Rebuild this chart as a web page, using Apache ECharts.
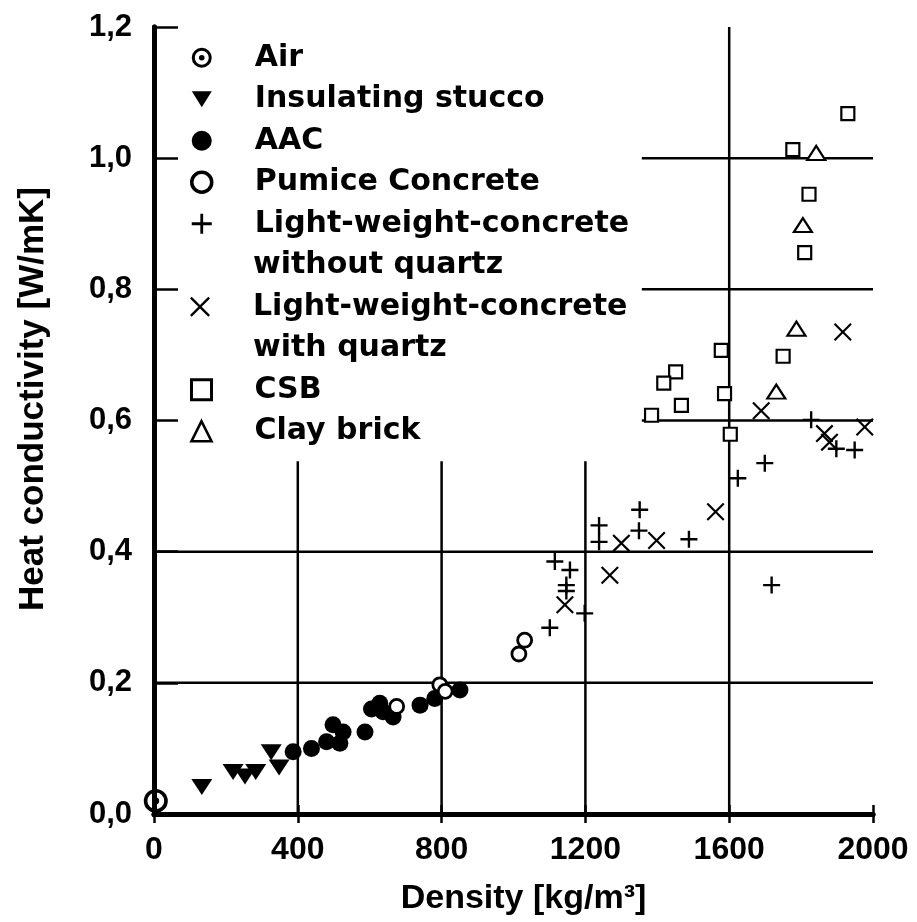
<!DOCTYPE html>
<html>
<head>
<meta charset="utf-8">
<title>Heat conductivity vs density</title>
<script src="https://cdn.jsdelivr.net/npm/echarts@6/dist/echarts.min.js"></script>
<style>
html, body { margin: 0; padding: 0; background: #fff; }
#chart { width: 917px; height: 922px; }
</style>
</head>
<body>
<div id="chart"></div>
<script>
// density [kg/m3], heat conductivity [W/mK]
var airData = [[5, 0.02]];
var stuccoData = [[133, 0.041], [220, 0.064], [253, 0.057], [283, 0.064], [326, 0.094], [348, 0.071]];
var aacData = [[387, 0.095], [438, 0.100], [480, 0.110], [498, 0.136], [517, 0.108], [526, 0.125],
	[587, 0.125], [605, 0.160], [628, 0.169], [637, 0.156], [665, 0.148], [740, 0.166],
	[781, 0.176], [851, 0.189]];
var pumiceData = [[675, 0.164], [795, 0.197], [810, 0.187], [1015, 0.244], [1031, 0.265]];
var lwcWithoutQuartz = [[1101, 0.284], [1115, 0.385], [1157, 0.372], [1147, 0.349], [1147, 0.340],
	[1198, 0.306], [1238, 0.440], [1238, 0.415], [1351, 0.464], [1349, 0.432], [1488, 0.419],
	[1624, 0.512], [1699, 0.535], [1718, 0.349], [1828, 0.601], [1898, 0.557], [1949, 0.555]];
var lwcWithQuartz = [[1143, 0.319], [1268, 0.364], [1300, 0.413], [1398, 0.417], [1562, 0.461],
	[1689, 0.615], [1865, 0.580], [1879, 0.567], [1977, 0.590], [1916, 0.735]];
var csbData = [[1930, 1.068], [1777, 1.013], [1822, 0.945], [1810, 0.856], [1750, 0.698], [1578, 0.707],
	[1451, 0.674], [1418, 0.657], [1467, 0.623], [1384, 0.608], [1587, 0.641], [1603, 0.579]];
var clayBrickData = [[1842, 1.008], [1805, 0.898], [1787, 0.740], [1731, 0.644]];

// grid lines only where the legend leaves room: [x1, y1, x2, y2]
var gridSegments = [
	[400, 0, 400, 0.538], [800, 0, 800, 0.538], [1200, 0, 1200, 0.538], [1600, 0, 1600, 1.2],
	[0, 0.2, 2000, 0.2], [0, 0.4, 2000, 0.4],
	[1357, 0.6, 2000, 0.6], [1357, 0.8, 2000, 0.8], [1357, 1.0, 2000, 1.0]
];

var PLUS = 'path://M-1.4,-10H1.4V-1.4H10V1.4H1.4V10H-1.4V1.4H-10V-1.4H-1.4Z';
var CROSS = 'path://M-10,-8.3L-8.3,-10L0,-1.7L8.3,-10L10,-8.3L1.7,0L10,8.3L8.3,10L0,1.7L-8.3,10L-10,8.3L-1.7,0Z';
var DOWN_TRIANGLE = 'path://M-10,-8L10,-8L0,8Z';
var RING_DOT = 'path://M0,-10A10,10 0 1 1 0,10A10,10 0 1 1 0,-10Z M0,-7A7,7 0 1 0 0,7A7,7 0 1 0 0,-7Z M0,-2.8A2.8,2.8 0 1 1 0,2.8A2.8,2.8 0 1 1 0,-2.8Z';

var axisFont = '"Liberation Sans", Arial, sans-serif';
var legendText = {
	fontFamily: '"DejaVu Sans", sans-serif', fontWeight: 'bold', fontSize: 30,
	color: '#000', lineHeight: 41.5, padding: [0, 0, 0, 38]
};
var openStyle = { color: '#fff', borderColor: '#000', borderWidth: 2.2, opacity: 1 };
var solidStyle = { color: '#000', opacity: 1 };

function firstLine(name) {
	return name.replace(/ with.*$/, '');
}

var dom = document.getElementById('chart');
var myChart = echarts.init(dom);

var legendBase = {
	orient: 'vertical', left: 190, padding: 0, itemGap: 0,
	itemWidth: 20, itemHeight: 20, selectedMode: false, textStyle: legendText, formatter: firstLine
};

var option = {
	animation: false,
	backgroundColor: '#fff',
	grid: { left: 154, right: 44, top: 27, bottom: 108 },
	legend: [
		Object.assign({}, legendBase, {
			top: 37,
			data: ['Air', 'Insulating stucco', 'AAC',
				{ name: 'Pumice Concrete', itemStyle: { borderWidth: 3.5 } },
				'Light-weight-concrete without quartz']
		}),
		Object.assign({}, legendBase, {
			top: 37 + 6 * 41.5,
			data: ['Light-weight-concrete with quartz']
		}),
		Object.assign({}, legendBase, {
			top: 37 + 8 * 41.5,
			data: [{ name: 'CSB', itemStyle: { borderWidth: 3 } }, { name: 'Clay brick', itemStyle: { borderWidth: 2.6 } }]
		})
	],
	graphic: [
		{ type: 'text', x: 253, y: 37 + 5 * 41.5 + 20.75, style: { text: 'without quartz', font: 'bold 30px "DejaVu Sans"', fill: '#000', verticalAlign: 'middle' } },
		{ type: 'text', x: 253, y: 37 + 7 * 41.5 + 20.75, style: { text: 'with quartz', font: 'bold 30px "DejaVu Sans"', fill: '#000', verticalAlign: 'middle' } }
	],
	xAxis: [
		{
			type: 'value', position: 'bottom', min: 0, max: 2000, interval: 400,
			axisLine: { lineStyle: { color: '#000', width: 5 } },
			axisTick: { inside: true, length: 9, lineStyle: { color: '#000', width: 2.5 } },
			axisLabel: {
				margin: 20, color: '#000', fontFamily: axisFont, fontWeight: 'bold', fontSize: 32,
				formatter: function (v) { return String(v); }
			},
			splitLine: { show: false },
			name: 'Density [kg/m³]', nameLocation: 'middle', nameGap: 68,
			nameTextStyle: { color: '#000', fontFamily: axisFont, fontWeight: 'bold', fontSize: 34, padding: [0, 0, 0, 20] }
		},
		{
			type: 'value', position: 'top', min: 0, max: 2000, interval: 400,
			axisLine: { lineStyle: { color: '#000', width: 5 } },
			axisTick: { inside: true, length: 9, lineStyle: { color: '#000', width: 2.5 } },
			axisLabel: { show: false },
			splitLine: { show: false }
		}
	],
	yAxis: [
		{
			type: 'value', position: 'left', min: 0, max: 1.2, interval: 0.2,
			axisLine: { lineStyle: { color: '#000', width: 5 } },
			axisTick: { inside: true, length: 24, lineStyle: { color: '#000', width: 2.5 } },
			axisLabel: {
				margin: 22, color: '#000', fontFamily: axisFont, fontWeight: 'bold', fontSize: 31,
				formatter: function (v) { return v.toFixed(1).replace('.', ','); }
			},
			splitLine: { show: false },
			name: 'Heat conductivity [W/mK]', nameLocation: 'middle', nameGap: 103,
			nameTextStyle: { color: '#000', fontFamily: axisFont, fontWeight: 'bold', fontSize: 35, padding: [0, 0, 0, 43] }
		},
		{
			type: 'value', position: 'right', min: 0, max: 1.2, interval: 0.2,
			axisLine: { lineStyle: { color: '#000', width: 5 } },
			axisTick: { show: false },
			axisLabel: { show: false },
			splitLine: { show: false }
		}
	],
	series: [
		{
			name: 'gridlines', type: 'custom', silent: true, z: 1,
			data: gridSegments,
			encode: { x: [0, 2], y: [1, 3] },
			renderItem: function (params, api) {
				var a = api.coord([api.value(0), api.value(1)]);
				var b = api.coord([api.value(2), api.value(3)]);
				return {
					type: 'line',
					shape: { x1: a[0], y1: a[1], x2: b[0], y2: b[1] },
					style: { stroke: '#000', lineWidth: 2.5 }
				};
			}
		},
		{ name: 'Air', type: 'scatter', z: 3, data: airData, symbol: RING_DOT, symbolSize: 24, itemStyle: solidStyle },
		{ name: 'Insulating stucco', type: 'scatter', z: 3, data: stuccoData, symbol: DOWN_TRIANGLE, symbolSize: [21, 16], itemStyle: solidStyle },
		{ name: 'AAC', type: 'scatter', z: 3, data: aacData, symbol: 'circle', symbolSize: 17, itemStyle: solidStyle },
		{ name: 'Pumice Concrete', type: 'scatter', z: 4, data: pumiceData, symbol: 'circle', symbolSize: 14, itemStyle: { color: '#fff', borderColor: '#000', borderWidth: 2.8, opacity: 1 } },
		{ name: 'Light-weight-concrete without quartz', type: 'scatter', z: 3, data: lwcWithoutQuartz, symbol: PLUS, symbolSize: 17, itemStyle: solidStyle },
		{ name: 'Light-weight-concrete with quartz', type: 'scatter', z: 3, data: lwcWithQuartz, symbol: CROSS, symbolSize: 18, itemStyle: solidStyle },
		{ name: 'CSB', type: 'scatter', z: 3, data: csbData, symbol: 'rect', symbolSize: 13, itemStyle: openStyle },
		{ name: 'Clay brick', type: 'scatter', z: 3, data: clayBrickData, symbol: 'triangle', symbolSize: [18, 14], itemStyle: openStyle }
	]
};

if (option && typeof option === "object") {
	myChart.setOption(option, true);
}
</script>
</body>
</html>
